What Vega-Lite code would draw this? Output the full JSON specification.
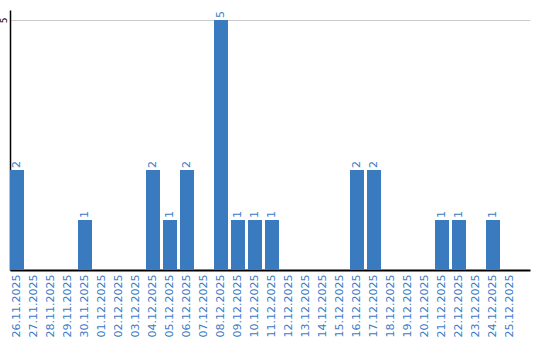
{
  "$schema": "https://vega.github.io/schema/vega-lite/v6.json",
  "width": 520,
  "height": 260,
  "autosize": "none",
  "padding": {"left": 10, "top": 10, "right": 10, "bottom": 70},
  "config": {"view": {"stroke": null}, "font": "DejaVu Sans"},
  "data": {"values": [
    {"date": "26.11.2025", "v": 2}, {"date": "27.11.2025", "v": 0}, {"date": "28.11.2025", "v": 0},
    {"date": "29.11.2025", "v": 0}, {"date": "30.11.2025", "v": 1}, {"date": "01.12.2025", "v": 0},
    {"date": "02.12.2025", "v": 0}, {"date": "03.12.2025", "v": 0}, {"date": "04.12.2025", "v": 2},
    {"date": "05.12.2025", "v": 1}, {"date": "06.12.2025", "v": 2}, {"date": "07.12.2025", "v": 0},
    {"date": "08.12.2025", "v": 5}, {"date": "09.12.2025", "v": 1}, {"date": "10.12.2025", "v": 1},
    {"date": "11.12.2025", "v": 1}, {"date": "12.12.2025", "v": 0}, {"date": "13.12.2025", "v": 0},
    {"date": "14.12.2025", "v": 0}, {"date": "15.12.2025", "v": 0}, {"date": "16.12.2025", "v": 2},
    {"date": "17.12.2025", "v": 2}, {"date": "18.12.2025", "v": 0}, {"date": "19.12.2025", "v": 0},
    {"date": "20.12.2025", "v": 0}, {"date": "21.12.2025", "v": 1}, {"date": "22.12.2025", "v": 1},
    {"date": "23.12.2025", "v": 0}, {"date": "24.12.2025", "v": 1}, {"date": "25.12.2025", "v": 0}
  ]},
  "encoding": {
    "x": {
      "field": "date", "type": "ordinal", "sort": null,
      "scale": {"paddingInner": 0.176, "paddingOuter": 0.382, "align": 0},
      "axis": {
        "title": null, "labelAngle": 270, "labelAlign": "right", "labelBaseline": "middle",
        "labelColor": "#3a7bc8", "labelFontSize": 11, "labelPadding": 4,
        "ticks": false, "domainColor": "#000000", "domainWidth": 2, "labelOverlap": false
      }
    },
    "y": {
      "field": "v", "type": "quantitative",
      "scale": {"domain": [0, 5.2], "nice": false},
      "axis": {
        "title": null, "values": [5], "labelAngle": 270, "labelAlign": "center", "labelBaseline": "bottom",
        "labelFontSize": 9, "labelColor": "#000000", "labelPadding": 2, "ticks": false,
        "domainColor": "#000000", "domainWidth": 1.5, "gridColor": "#cccccc", "gridWidth": 1
      }
    }
  },
  "layer": [
    {"mark": {"type": "bar", "color": "#3a7bbf"}},
    {
      "transform": [{"filter": "datum.v > 0"}],
      "mark": {"type": "text", "angle": 270, "align": "left", "baseline": "middle", "dx": 2, "fontSize": 11, "color": "#3a7bc8"},
      "encoding": {"text": {"field": "v", "type": "quantitative"}}
    }
  ]
}
